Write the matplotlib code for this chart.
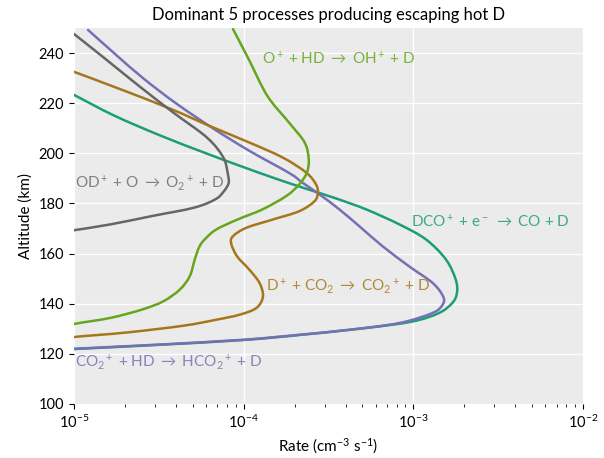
import matplotlib
matplotlib.use("Agg")
from matplotlib import pyplot as plt
from matplotlib.path import Path
from matplotlib.patches import PathPatch
import numpy as np

plt.rcParams['font.family'] = ['Lato', 'DejaVu Sans']
plt.rcParams['mathtext.fontset'] = 'custom'
plt.rcParams['mathtext.rm'] = 'Lato'
plt.rcParams['mathtext.it'] = 'Lato:italic'

# O+ + HD -> OH+ + D
alt_o = [130.0, 131.9, 134.3, 137.6, 140.9, 145.6, 150.9, 157.6, 162.9,
         166.0, 169.6, 173.6, 177.6, 182.9, 187.6, 192.3, 197.6, 204.3,
         212.3, 222.9, 237.6, 249.6]
rate_o = [8.0e-6, 1.0e-5, 1.63e-5, 2.5e-5, 3.35e-5, 4.2e-5, 4.81e-5, 5.15e-5, 5.5e-5,
          5.97e-5, 6.9e-5, 9.22e-5, 1.29e-4, 1.78e-4, 2.13e-4, 2.36e-4, 2.42e-4, 2.29e-4,
          1.85e-4, 1.38e-4, 1.07e-4, 8.65e-5]

# D+ + CO2 -> CO2+ + D
alt_d = [125.5, 126.7, 128.5, 131.2, 133.6, 135.6, 138.3, 142.9, 148.3,
         153.6, 158.9, 164.0, 166.9, 170.3, 173.6, 176.9, 180.9, 184.3, 187.6,
         192.3, 198.3, 204.3, 210.9, 217.6, 225.6, 232.5]
rate_d = [8.0e-6, 1.0e-5, 2.04e-5, 4.4e-5, 6.9e-5, 9.46e-5, 1.19e-4, 1.30e-4, 1.24e-4,
          1.08e-4, 9.15e-5, 8.45e-5, 8.65e-5, 1.04e-4, 1.49e-4, 2.13e-4, 2.62e-4, 2.74e-4, 2.67e-4,
          2.34e-4, 1.70e-4, 1.08e-4, 6.3e-5, 3.75e-5, 1.87e-5, 1.0e-5]

# OD+ + O -> O2+ + D
alt_od = [168.5, 169.3, 171.6, 174.9, 178.3, 181.6, 184.6, 188.0, 191.2, 196.5,
          200.0, 204.0, 208.3, 216.3, 227.6, 238.3, 247.6]
rate_od = [8.5e-6, 1.0e-5, 1.63e-5, 2.85e-5, 5.1e-5, 6.8e-5, 7.6e-5, 8.15e-5, 8.1e-5, 7.8e-5,
           7.33e-5, 6.58e-5, 5.59e-5, 3.84e-5, 2.34e-5, 1.49e-5, 1.0e-5]

# CO2+ + HD -> HCO2+ + D
alt_co2 = [121.5, 122.0, 123.6, 125.6, 127.6, 129.6, 132.3, 136.3, 139.6,
           142.9, 148.3, 154.9, 162.9, 170.9, 177.6, 183.6, 188.3, 192.0,
           201.0, 210.0, 220.0, 230.0, 240.0, 249.2]
rate_co2 = [8.0e-6, 1.0e-5, 3.0e-5, 9.9e-5, 2.13e-4, 4.2e-4, 8.3e-4, 1.30e-3, 1.49e-3,
            1.50e-3, 1.30e-3, 9.46e-4, 6.6e-4, 4.81e-4, 3.67e-4, 2.8e-4, 2.22e-4, 1.87e-4,
            1.08e-4, 6.58e-5, 3.98e-5, 2.55e-5, 1.72e-5, 1.21e-5]

# DCO+ + e- -> CO + D
alt_dco = [121.4, 121.9, 123.5, 125.5, 127.5, 130.3, 132.9, 136.3, 140.3, 144.3,
           149.6, 157.6, 165.6, 171.6, 177.6, 182.0, 186.0, 190.0, 195.0,
           200.0, 207.0, 215.0, 223.3]
rate_dco = [8.0e-6, 1.0e-5, 3.0e-5, 9.9e-5, 2.13e-4, 5.27e-4, 9.9e-4, 1.42e-3, 1.70e-3, 1.81e-3,
            1.78e-3, 1.56e-3, 1.19e-3, 8.3e-4, 5.28e-4, 3.50e-4, 2.30e-4, 1.53e-4, 9.5e-5,
            6.0e-5, 3.25e-5, 1.73e-5, 1.0e-5]

teal = "#1b9e77"
purple = "#7570b3"
green = "#66a61e"
brown = "#a6761d"
gray = "#666666"


def smooth_line(ax, rates, alts, color, lw=1.8):
    # Catmull-Rom curve through the points, built in log-rate space
    lx = np.log10(rates)
    y = np.asarray(alts, dtype=float)
    p = np.column_stack([lx, y])
    p = np.vstack([p[0], p, p[-1]])
    verts = [p[1]]
    codes = [Path.MOVETO]
    for i in range(1, len(p) - 2):
        c1 = p[i] + (p[i + 1] - p[i - 1]) / 6.0
        c2 = p[i + 1] - (p[i + 2] - p[i]) / 6.0
        verts += [c1, c2, p[i + 1]]
        codes += [Path.CURVE4] * 3
    verts = np.array(verts)
    verts[:, 0] = 10 ** verts[:, 0]
    patch = PathPatch(Path(verts, codes), facecolor="none", edgecolor=color,
                      lw=lw, capstyle="round", joinstyle="round")
    ax.add_patch(patch)


fig = plt.figure(figsize=(6.04, 4.58), dpi=100)
ax = fig.add_axes([0.1225, 0.118, 0.8425, 0.821])
ax.set_facecolor("#ebebeb")
for s in ax.spines.values():
    s.set_visible(False)
ax.grid(True, which="major", color="white", linewidth=1.0)
ax.set_axisbelow(True)
ax.set_xscale("log")

smooth_line(ax, rate_dco, alt_dco, teal)
smooth_line(ax, rate_co2, alt_co2, purple)
smooth_line(ax, rate_d, alt_d, brown)
smooth_line(ax, rate_o, alt_o, green)
smooth_line(ax, rate_od, alt_od, gray)

ax.set_xlim(1e-5, 1e-2)
ax.set_ylim(100, 250)
ax.set_yticks([100, 120, 140, 160, 180, 200, 220, 240])
ax.tick_params(labelsize=10.5)
ax.tick_params(which="minor", length=2.5)

fs = 11
ax.text(1.28e-4, 237.6, r"O$^+$ + HD $\rightarrow$ OH$^+$ + D", color=green, fontsize=fs, va="center", alpha=0.85)
ax.text(1.02e-5, 188, r"OD$^+$ + O $\rightarrow$ O$_2$$^+$ + D", color=gray, fontsize=fs, va="center", alpha=0.8)
ax.text(9.7e-4, 172.8, r"DCO$^+$ + e$^-$ $\rightarrow$ CO + D", color=teal, fontsize=fs, va="center", alpha=0.85)
ax.text(1.35e-4, 146.8, r"D$^+$ + CO$_2$ $\rightarrow$ CO$_2$$^+$ + D", color=brown, fontsize=fs, va="center", alpha=0.85)
ax.text(1.02e-5, 116.8, r"CO$_2$$^+$ + HD $\rightarrow$ HCO$_2$$^+$ + D", color=purple, fontsize=fs, va="center", alpha=0.85)

ax.set_xlabel(r"Rate (cm$^{-3}$ s$^{-1}$)", fontsize=11)
ax.set_ylabel("Altitude (km)", fontsize=11)
ax.set_title("Dominant 5 processes producing escaping hot D", fontsize=12)

fig.savefig("out.png", dpi=100)
